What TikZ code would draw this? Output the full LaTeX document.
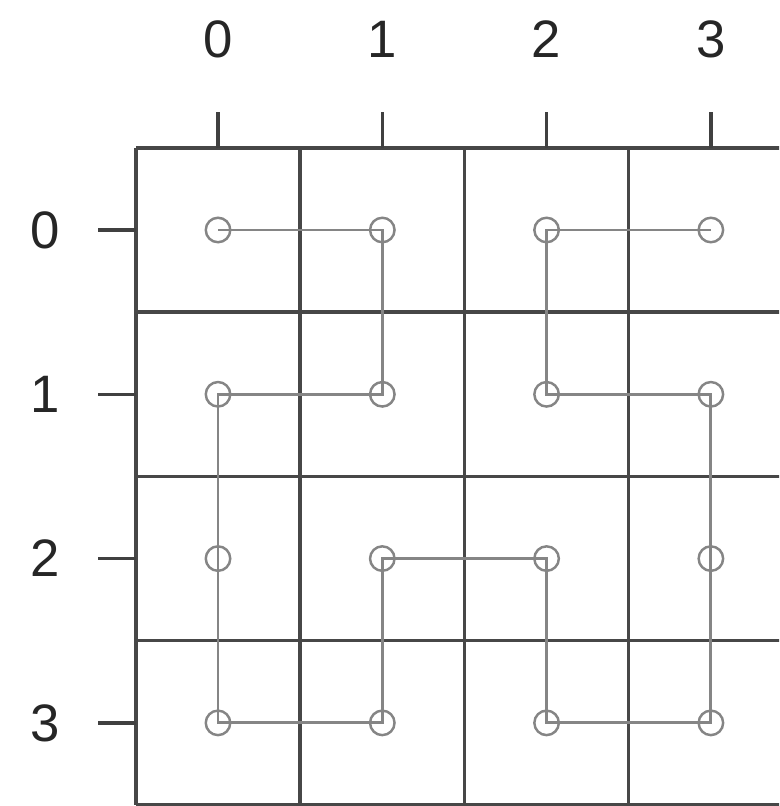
\documentclass[tikz,border=0pt]{standalone}
\usepackage{fontspec}
\setmainfont{Liberation Sans}
\usetikzlibrary{positioning}

\begin{document}
\begin{tikzpicture}[
        x = 3.286cm, y = -3.286cm,
        cellline/.style = {draw = black!72, line width = 1.9pt},
        tickmark/.style = {draw = black!75, line width = 2pt},
        cellpt/.style = {
            circle,
            draw = black!48,
            line width = 1.4pt,
            inner sep = 0pt,
            minimum size = 0.49cm
        },
        curveline/.style = {draw = black!48, line width = 1.6pt},
        ticklabel/.style = {
            font = \fontsize{30}{34}\selectfont,
            text = black!85,
            inner sep = 0pt
        }
    ]
        \useasboundingbox (-1.327,-1.40) rectangle (3.415,3.506);
        % grid
        \begin{scope}
            \clip (-1.327,-1.40) rectangle (3.415,3.506);
            \foreach \k in {-0.5,0.5,1.5,2.5,3.5} {
                \draw[cellline] (\k,-0.5) -- (\k,3.5);
                \draw[cellline] (-0.5,\k) -- (3.5,\k);
            }
        \end{scope}
        % axes
        \foreach \k in {0,1,2,3} {
            \draw[tickmark] (\k,-0.5) -- (\k,-0.72);
            \draw[tickmark] (-0.5,\k) -- (-0.73,\k);
            \node[ticklabel] (top\k) at (\k,-1.16) {\k};
            \node[ticklabel] (left\k) at (-1.053,\k) {\k};
        }
        % cell centres
        \foreach \c in {0,1,2,3} {
            \foreach \r in {0,1,2,3} {
                \node[cellpt] (p\c\r) at (\c,\r) {};
            }
        }
        % curve
        \draw[curveline] (p00.center) -- (p10.center) -- (p11.center)
            -- (p01.center) -- (p02.center) -- (p03.center)
            -- (p13.center) -- (p12.center) -- (p22.center)
            -- (p23.center) -- (p33.center) -- (p32.center)
            -- (p31.center) -- (p21.center) -- (p20.center)
            -- (p30.center);
\end{tikzpicture}
\end{document}
